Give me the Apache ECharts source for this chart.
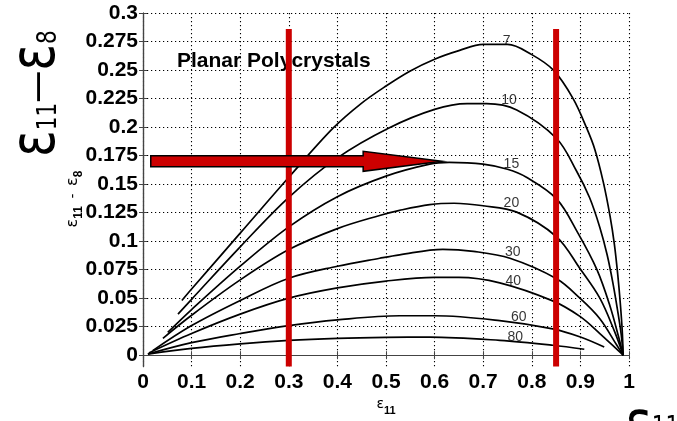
<!DOCTYPE html>
<html>
<head>
<meta charset="utf-8">
<script src="https://cdn.jsdelivr.net/npm/echarts@6/dist/echarts.min.js"></script>
<style>
  html, body { margin: 0; padding: 0; background: #fff; }
  #chart { width: 677px; height: 421px; }
</style>
</head>
<body>
<div id="chart"></div>
<script>
// Strain difference ε11 − ε8 against ε11 for planar polycrystals,
// one curve per parameter value (7 … 80).
const yTickValues = [0, 0.025, 0.05, 0.075, 0.1, 0.125, 0.15, 0.175, 0.2, 0.225, 0.25, 0.275, 0.3];

const curve7 = [[0.08,0.048],[0.1,0.058],[0.2,0.107],[0.3,0.156],[0.391,0.199],[0.45,0.221],[0.5,0.236],[0.549,0.249],[0.6,0.2595],[0.65,0.267],[0.7,0.2725],[0.75,0.2725],[0.8,0.2635],[0.845,0.2497],[0.885,0.225],[0.913,0.199],[0.93,0.180],[0.947,0.152],[0.961,0.122],[0.970,0.097],[0.977,0.070],[0.982,0.046],[0.986,0.022],[0.988,0]];
const curve10 = [[0.072,0.036],[0.1,0.049],[0.2,0.095],[0.3,0.1384],[0.4,0.173],[0.505,0.199],[0.6,0.2155],[0.667,0.2205],[0.707,0.2205],[0.769,0.215],[0.851,0.190],[0.892,0.1615],[0.919,0.138],[0.94,0.112],[0.955,0.088],[0.967,0.063],[0.977,0.038],[0.984,0.018],[0.988,0]];
const curve15 = [[0.051,0.020],[0.1,0.040],[0.2,0.078],[0.3,0.1125],[0.4,0.139],[0.5,0.157],[0.59,0.1675],[0.63,0.169],[0.7,0.1675],[0.75,0.163],[0.789,0.156],[0.851,0.137],[0.895,0.107],[0.934,0.075],[0.961,0.043],[0.978,0.017],[0.988,0]];
const curve20 = [[0.041,0.0148],[0.1,0.035],[0.2,0.066],[0.3,0.0926],[0.4,0.111],[0.487,0.1225],[0.528,0.127],[0.59,0.132],[0.64,0.1332],[0.7,0.131],[0.769,0.1254],[0.851,0.1038],[0.899,0.076],[0.94,0.050],[0.971,0.020],[0.988,0]];
const curve30 = [[0.02,0.004],[0.1,0.026],[0.2,0.048],[0.3,0.0675],[0.4,0.078],[0.487,0.085],[0.528,0.088],[0.617,0.0928],[0.68,0.091],[0.755,0.085],[0.851,0.067],[0.899,0.050],[0.94,0.032],[0.975,0.0087],[0.988,0]];
const curve40 = [[0.012,0.002],[0.1,0.019],[0.2,0.036],[0.3,0.050],[0.4,0.059],[0.5,0.065],[0.6,0.0682],[0.65,0.0682],[0.734,0.0634],[0.843,0.0476],[0.899,0.034],[0.94,0.019],[0.978,0.004],[0.988,0]];
const curve60 = [[0.01,0.001],[0.1,0.011],[0.2,0.019],[0.3,0.026],[0.4,0.031],[0.528,0.0346],[0.6,0.0346],[0.734,0.0303],[0.843,0.0231],[0.9,0.016],[0.949,0.0072]];
const curve80 = [[0.01,0.001],[0.1,0.006],[0.2,0.010],[0.3,0.013],[0.4,0.0148],[0.5,0.0157],[0.59,0.0159],[0.734,0.013],[0.843,0.0087],[0.908,0.0052]];

const curveNames = ['7', '10', '15', '20', '30', '40', '60', '80'];
const curveLabelPos = [[0.748,0.275],[0.753,0.2236],[0.758,0.1678],[0.758,0.1332],[0.761,0.090],[0.762,0.0649],[0.773,0.0337],[0.766,0.016]];

// Vertical marker lines at ε11 = 0.3 and 0.85, and the horizontal arrow
const markerX = [0.3, 0.85];
const markerBottom = -0.01;
const markerTop = 0.286;
const arrowY = 0.170;
const arrowStartX = 0.016;
const arrowHeadX = 0.453;
const arrowTipX = 0.615;

const curves = [curve7, curve10, curve15, curve20, curve30, curve40, curve60, curve80];

const chart = echarts.init(document.getElementById('chart'), null, { renderer: 'canvas' });

const tickFont = { fontFamily: 'Liberation Sans', fontWeight: 'bold', fontSize: 21, color: '#000' };
const frameLine = { show: true, lineStyle: { color: '#444', width: 1.2 } };
const dotted = { show: true, lineStyle: { color: '#000', width: 1.1, type: [1.2, 2.8] } };

const series = [];
curves.forEach((c, i) => {
  series.push({
    name: curveNames[i], type: 'line', data: c, showSymbol: false, symbol: 'none',
    smooth: 0.35,
    lineStyle: { color: '#000', width: 1.7 }, z: 3, silent: true
  });
});
series.push({
  type: 'scatter', symbolSize: 0, z: 4, silent: true,
  data: curveNames.map((n, i) => ({ name: n, value: curveLabelPos[i] })),
  label: { show: true, position: 'inside', formatter: '{b}', color: '#000',
           fontFamily: 'Liberation Sans', fontSize: 14 }
});
markerX.forEach(x => {
  series.push({
    type: 'line', data: [[x, markerBottom], [x, markerTop]], showSymbol: false, symbol: 'none',
    lineStyle: { color: '#cc0000', width: 6 }, z: 6, silent: true
  });
});
series.push({
  type: 'custom', z: 7, silent: true,
  data: [[arrowStartX, arrowY, arrowHeadX, arrowTipX]],
  renderItem(params, api) {
    const p0 = api.coord([api.value(0), api.value(1)]);
    const pb = api.coord([api.value(2), api.value(1)]);
    const pt = api.coord([api.value(3), api.value(1)]);
    const y = p0[1], bh = 5.5, hh = 10;
    return {
      type: 'polygon',
      shape: { points: [[p0[0], y - bh], [pb[0], y - bh], [pb[0], y - hh], [pt[0], y],
                        [pb[0], y + hh], [pb[0], y + bh], [p0[0], y + bh]] },
      style: { fill: '#cc0000', stroke: '#000', lineWidth: 1.5 }
    };
  }
});

chart.setOption({
  animation: false,
  backgroundColor: '#fff',
  grid: { left: 143, right: 48, top: 13, bottom: 50, containLabel: false },
  xAxis: [{
    type: 'value', min: 0, max: 1, interval: 0.1, position: 'bottom',
    axisLine: frameLine, axisTick: { show: true, inside: true, length: 4, lineStyle: { color: '#444' } },
    axisLabel: Object.assign({ margin: 5, formatter: v => String(+v.toFixed(1)) }, tickFont),
    splitLine: dotted,
    name: '{e|ε}{s|11}', nameLocation: 'middle', nameGap: 26,
    nameTextStyle: { rich: {
      e: { fontFamily: 'DejaVu Sans', fontSize: 14, color: '#000' },
      s: { fontFamily: 'Liberation Sans', fontSize: 11, fontWeight: 'bold', color: '#000', padding: [12, 0, 0, 0] }
    } }
  }, {
    type: 'value', min: 0, max: 1, interval: 0.1, position: 'top',
    axisLine: frameLine, axisTick: { show: true, inside: true, length: 4, lineStyle: { color: '#444' } },
    axisLabel: { show: false }, splitLine: { show: false }
  }],
  yAxis: [{
    type: 'value', min: -0.01, max: 0.3, position: 'left',
    axisLine: frameLine,
    axisTick: { show: true, inside: true, length: 4, customValues: yTickValues, lineStyle: { color: '#444' } },
    axisLabel: Object.assign({ margin: 5, customValues: yTickValues, formatter: v => String(+v.toFixed(3)) }, tickFont),
    splitLine: dotted
  }, {
    type: 'value', min: -0.01, max: 0.3, position: 'right',
    axisLine: frameLine,
    axisTick: { show: true, inside: true, length: 4, customValues: yTickValues, lineStyle: { color: '#444' } },
    axisLabel: { show: false }, splitLine: { show: false }
  }],
  graphic: [{
    type: 'text', left: 177, top: 51, z: 1,
    style: { text: 'Planar Polycrystals', fontFamily: 'Liberation Sans', fontWeight: 'bold', fontSize: 21, fill: '#000' }
  }, {
    // small rotated y-axis title
    type: 'text', x: 73, y: 199, rotation: Math.PI / 2, z: 1,
    style: {
      text: '{e|ε}{s|11}{m|  -  }{e|ε}{s|8}', align: 'center', verticalAlign: 'middle',
      rich: {
        e: { fontFamily: 'DejaVu Sans', fontSize: 16, fill: '#000' },
        m: { fontFamily: 'Liberation Sans', fontSize: 14, fill: '#000' },
        s: { fontFamily: 'Liberation Sans', fontSize: 12, fontWeight: 'bold', fill: '#000', padding: [12, 0, 0, 0] }
      }
    }
  }, {
    // large rotated quantity label
    type: 'text', x: 38, y: 157, rotation: Math.PI / 2, scaleX: 0.8, z: 1,
    style: {
      text: '{e|ε}{s|11}{d|—}{e|ε}{s|8}', align: 'left', verticalAlign: 'middle',
      rich: {
        e: { fontFamily: 'DejaVu Sans', fontSize: 62, fill: '#000' },
        d: { fontFamily: 'DejaVu Sans', fontSize: 40, fill: '#000', padding: [4, 0, 0, 0] },
        s: { fontFamily: 'DejaVu Sans', fontSize: 27, fill: '#000', padding: [21, 0, 0, 0] }
      }
    }
  }, {
    // large horizontal quantity label, bottom right (runs off the edge)
    type: 'text', x: 625, y: 428, scaleX: 0.8, z: 1,
    style: {
      text: '{e|ε}{s|11}', align: 'left', verticalAlign: 'middle',
      rich: {
        e: { fontFamily: 'DejaVu Sans', fontSize: 62, fill: '#000' },
        s: { fontFamily: 'DejaVu Sans', fontSize: 27, fill: '#000' }
      }
    }
  }],
  series: series
});
</script>
</body>
</html>
